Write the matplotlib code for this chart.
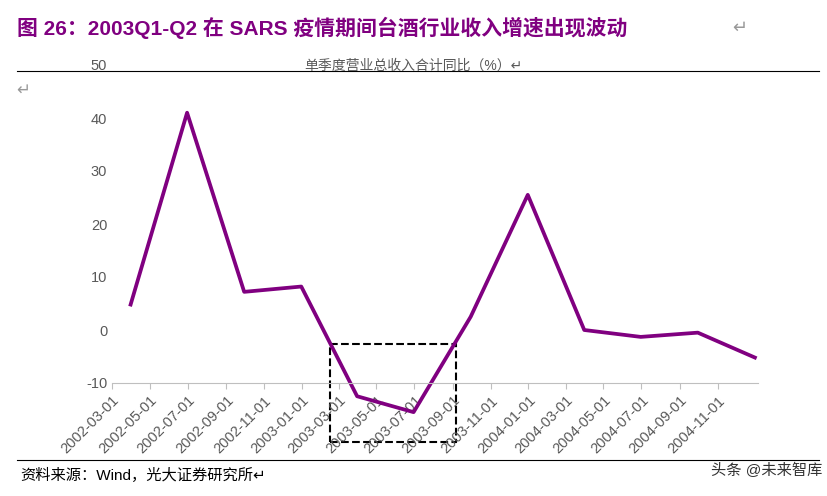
import matplotlib.pyplot as plt
import matplotlib.dates as mdates
import pandas as pd
from matplotlib.patches import Rectangle

plt.rcParams['font.family'] = ['Liberation Sans', 'Noto Sans CJK SC', 'DejaVu Sans']
plt.rcParams['axes.unicode_minus'] = False

quarters = pd.to_datetime(['2002-03-31', '2002-06-30', '2002-09-30', '2002-12-31',
                           '2003-03-31', '2003-06-30', '2003-09-30', '2003-12-31',
                           '2004-03-31', '2004-06-30', '2004-09-30', '2004-12-31'])
growth = [4.8, 41.0, 7.2, 8.2, -12.5, -15.5, 2.5, 25.5, 0.0, -1.3, -0.5, -5.2]
tick_dates = pd.date_range('2002-03-01', '2004-11-01', freq='2MS')

purple = '#800080'
fig = plt.figure(figsize=(8.27, 4.96), dpi=100)
ax = fig.add_axes([112/827, 1 - 383/496, (758-112)/827, (383-65)/496])
ax.plot(quarters, growth, color=purple, lw=2.7, clip_on=False)
ax.set_ylim(-10, 50)
ax.set_yticks(range(-10, 51, 10))
ax.set_xlim(pd.Timestamp('2002-03-01'), pd.Timestamp('2005-01-05'))
ax.set_xticks(tick_dates)
ax.xaxis.set_major_formatter(mdates.DateFormatter('%Y-%m-%d'))
for lab in ax.get_xticklabels():
    lab.set_rotation(45)
    lab.set_ha('right')
    lab.set_rotation_mode('anchor')
ax.tick_params(colors='#595959', labelsize=10.5, length=0)
ax.tick_params(axis='x', length=4, color='#bfbfbf')
for s in ['top', 'right', 'left']:
    ax.spines[s].set_visible(False)
ax.spines['bottom'].set_color('#bfbfbf')

# dashed box around SARS period
x0 = mdates.date2num(pd.Timestamp('2003-02-15'))
x1 = mdates.date2num(pd.Timestamp('2003-09-06'))
ax.add_patch(Rectangle((x0, -21.2), x1 - x0, 18.6, fill=False, ls='--', lw=1.5,
                       ec='black', clip_on=False))

fig.text(0.02, 1 - 28/496, '图 26：2003Q1-Q2 在 SARS 疫情期间台酒行业收入增速出现波动',
         color=purple, fontsize=15, fontweight='bold', va='center')
fig.text(0.885, 1 - 28/496, '↵', color='#999999', fontsize=13, va='center',
         family=['DejaVu Sans'])
fig.add_artist(plt.Line2D([0.02, 0.99], [1 - 71/496] * 2, color='black', lw=0.8))
fig.text(0.5, 1 - 66/496, '单季度营业总收入合计同比（%）↵', color='#595959',
         fontsize=10, ha='center', va='center')
fig.text(0.02, 1 - 95/496, '↵', color='#999999', fontsize=12, family=['DejaVu Sans'])
fig.add_artist(plt.Line2D([0.02, 0.99], [1 - 460/496] * 2, color='black', lw=0.8))
fig.text(0.025, 1 - 475/496, '资料来源：Wind，光大证券研究所↵', fontsize=11, va='center')
fig.text(0.86, 1 - 470/496, '头条 @未来智库', fontsize=11, color='#333333', va='center')

fig.savefig('out.png')
